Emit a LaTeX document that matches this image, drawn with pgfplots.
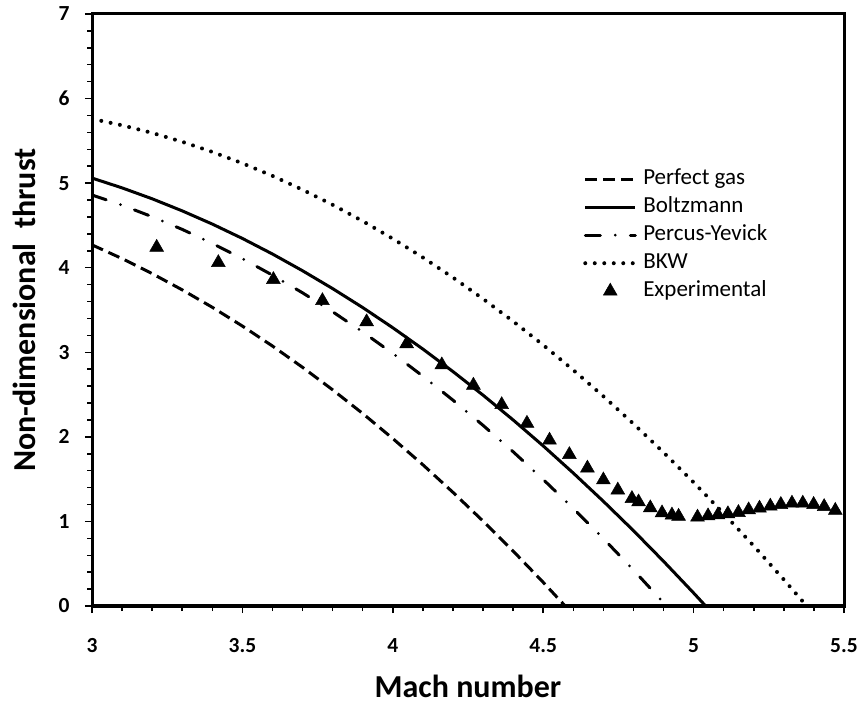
\documentclass[border=0pt]{standalone}
\usepackage{fontspec}
\setmainfont{Carlito}
\usepackage{pgfplots}
\pgfplotsset{compat=1.18}
\begin{document}
\begin{tikzpicture}
\useasboundingbox (0,0) rectangle (861bp,705bp);
\begin{axis}[
  at={(92bp,99bp)}, anchor=south west,
  width=752bp, height=592bp, scale only axis,
  xmin=3, xmax=5.5, ymin=0, ymax=7,
  xtick={3,3.5,4,4.5,5,5.5}, ytick={0,1,2,3,4,5,6,7},
  minor x tick num=4, minor y tick num=4,
  tick align=outside, xtick pos=left, ytick pos=left,
  major tick length=7bp, minor tick length=5bp,
  every tick/.style={black, line width=1.5bp},
  axis line style={line width=3bp},
  /pgf/number format/assume math mode=true,
  tick label style={font=\fontsize{21.5bp}{25bp}\selectfont\bfseries},
  xticklabel style={yshift=-22bp},
  yticklabel style={xshift=-12bp},
  xlabel={Mach number},
  ylabel={Non-dimensional\ \ thrust},
  label style={font=\fontsize{32bp}{38bp}\selectfont\bfseries},
  xlabel style={at={(axis description cs:0.5,-0.1554)}, anchor=base},
  ylabel style={at={(axis description cs:-0.0745,0.5)}, anchor=base},
  legend style={draw=none, fill=none, at={(axis description cs:0.653,0.739)}, anchor=north west,
    font=\fontsize{23bp}{27bp}\selectfont, inner sep=0pt,
    nodes={inner sep=0pt, text height=16bp, text depth=5bp},
    row sep=7bp,
    /tikz/every odd column/.append style={column sep=6bp}},
  legend cell align=left,
  legend image code/.code={\draw[mark repeat=2,mark phase=2,#1] plot coordinates {(0bp,0bp)(25bp,0bp)(50bp,0bp)};},
]
% Perfect gas
\addplot[black, line width=3bp, dash pattern=on 12bp off 6bp] coordinates {
(3.0,4.270)(3.1,4.108)(3.2,3.930)(3.3,3.738)(3.4,3.532)(3.5,3.310)(3.6,3.074)(3.7,2.822)(3.8,2.556)(3.9,2.276)(4.0,1.980)(4.1,1.670)(4.2,1.344)(4.3,1.004)(4.4,0.650)(4.5,0.280)(4.573,0)};
\addlegendentry{Perfect gas}
% Boltzmann
\addplot[black, line width=3bp] coordinates {
(3.0,5.060)(3.1,4.944)(3.2,4.815)(3.3,4.672)(3.4,4.516)(3.5,4.346)(3.6,4.162)(3.7,3.964)(3.8,3.753)(3.9,3.529)(4.0,3.290)(4.1,3.038)(4.2,2.772)(4.3,2.493)(4.4,2.200)(4.5,1.893)(4.6,1.572)(4.7,1.238)(4.8,0.891)(4.9,0.529)(5.0,0.154)(5.04,0)};
\addlegendentry{Boltzmann}
% Percus-Yevick
\addplot[black, line width=3bp, line cap=round, dash pattern=on 15bp off 15bp on 0bp off 15bp] coordinates {
(3.0,4.860)(3.1,4.739)(3.2,4.603)(3.3,4.453)(3.4,4.287)(3.5,4.107)(3.6,3.912)(3.7,3.703)(3.8,3.479)(3.9,3.240)(4.0,2.986)(4.1,2.718)(4.2,2.434)(4.3,2.136)(4.4,1.824)(4.5,1.496)(4.6,1.154)(4.7,0.797)(4.8,0.426)(4.9,0.039)(4.91,0)};
\addlegendentry{Percus-Yevick}
% BKW
\addplot[black, line width=4bp, line cap=round, dash pattern=on 0bp off 9.5bp] coordinates {
(3.0,5.760)(3.1,5.684)(3.2,5.594)(3.3,5.489)(3.4,5.369)(3.5,5.235)(3.6,5.086)(3.7,4.922)(3.8,4.744)(3.9,4.551)(4.0,4.343)(4.1,4.121)(4.2,3.884)(4.3,3.632)(4.4,3.366)(4.5,3.086)(4.6,2.790)(4.7,2.480)(4.8,2.155)(4.9,1.816)(5.0,1.462)(5.1,1.093)(5.2,0.710)(5.3,0.312)(5.376,0)};
\addlegendentry{BKW}
% Experimental
\addplot[only marks, mark=triangle*, mark size=8bp, mark options={solid, fill=black, draw=black, line width=0.5bp}] coordinates {
(3.215,4.24)(3.42,4.06)(3.603,3.86)(3.766,3.61)(3.913,3.36)(4.046,3.10)(4.163,2.85)(4.268,2.61)(4.362,2.38)(4.446,2.16)(4.521,1.96)(4.587,1.79)(4.647,1.63)(4.70,1.49)(4.748,1.37)(4.795,1.27)(4.817,1.23)(4.856,1.16)(4.895,1.10)(4.928,1.075)(4.95,1.06)(5.013,1.05)(5.048,1.065)(5.081,1.077)(5.114,1.09)(5.149,1.105)(5.183,1.136)(5.219,1.156)(5.255,1.18)(5.29,1.20)(5.327,1.215)(5.363,1.215)(5.399,1.20)(5.434,1.175)(5.471,1.13)};
\addlegendentry{Experimental}
\end{axis}
\end{tikzpicture}
\end{document}
